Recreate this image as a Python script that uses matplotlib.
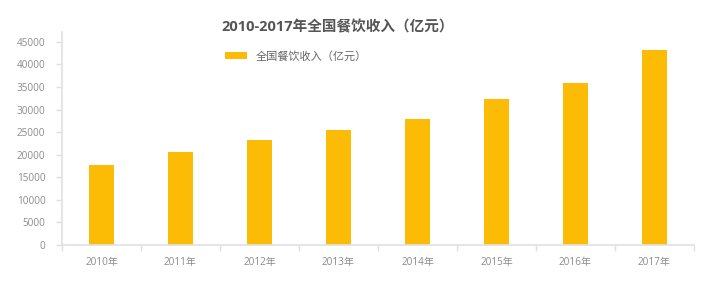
import matplotlib.pyplot as plt
from matplotlib.ticker import FixedLocator

plt.rcParams['font.family'] = ['Open Sans', 'Noto Sans CJK SC', 'DejaVu Sans']

years = ['2010年', '2011年', '2012年', '2013年', '2014年', '2015年', '2016年', '2017年']
revenue = [17648, 20635, 23283, 25392, 27860, 32310, 35799, 43200]
yticks = [0, 5000, 10000, 15000, 20000, 25000, 30000, 35000, 40000, 45000]

bar_color = '#fcbc05'
axis_color = '#e0e0e0'
label_color = '#8c8c8c'

fig = plt.figure(figsize=(7.1, 2.86), dpi=100)
ax = fig.add_axes([62 / 710, 1 - 245 / 286, 632 / 710, 213 / 286])

x = range(len(years))
ax.bar(x, revenue, width=0.32, color=bar_color, label='全国餐饮收入（亿元）', zorder=2)

ax.set_xlim(-0.5, len(years) - 0.5)
ax.set_ylim(0, 47200)
ax.set_yticks(yticks)
ax.set_xticks(list(x))
ax.set_xticklabels(years)
ax.xaxis.set_minor_locator(FixedLocator([i - 0.5 for i in range(len(years) + 1)]))

for side in ['top', 'right']:
    ax.spines[side].set_visible(False)
for side in ['left', 'bottom']:
    ax.spines[side].set_color(axis_color)
    ax.spines[side].set_linewidth(1.2)

ax.tick_params(axis='y', colors=axis_color, labelcolor=label_color,
               labelsize=7.2, length=4, width=1, pad=8)
ax.tick_params(axis='x', which='major', length=0, labelcolor=label_color,
               labelsize=7.2, pad=9)
ax.tick_params(axis='x', which='minor', length=4, width=1, colors=axis_color)

fig.text(338 / 710, 1 - 27 / 286, '2010-2017年全国餐饮收入（亿元）',
         ha='center', va='center', fontsize=10.5, fontweight='bold', color='#555555')

fig.legend(loc='center left', bbox_to_anchor=(215 / 710, 1 - 57 / 286),
           frameon=False, fontsize=8, handlelength=2.0, handleheight=0.55,
           handletextpad=0.8, labelcolor='#666666')

plt.savefig('out.png', dpi=100)
plt.close()
